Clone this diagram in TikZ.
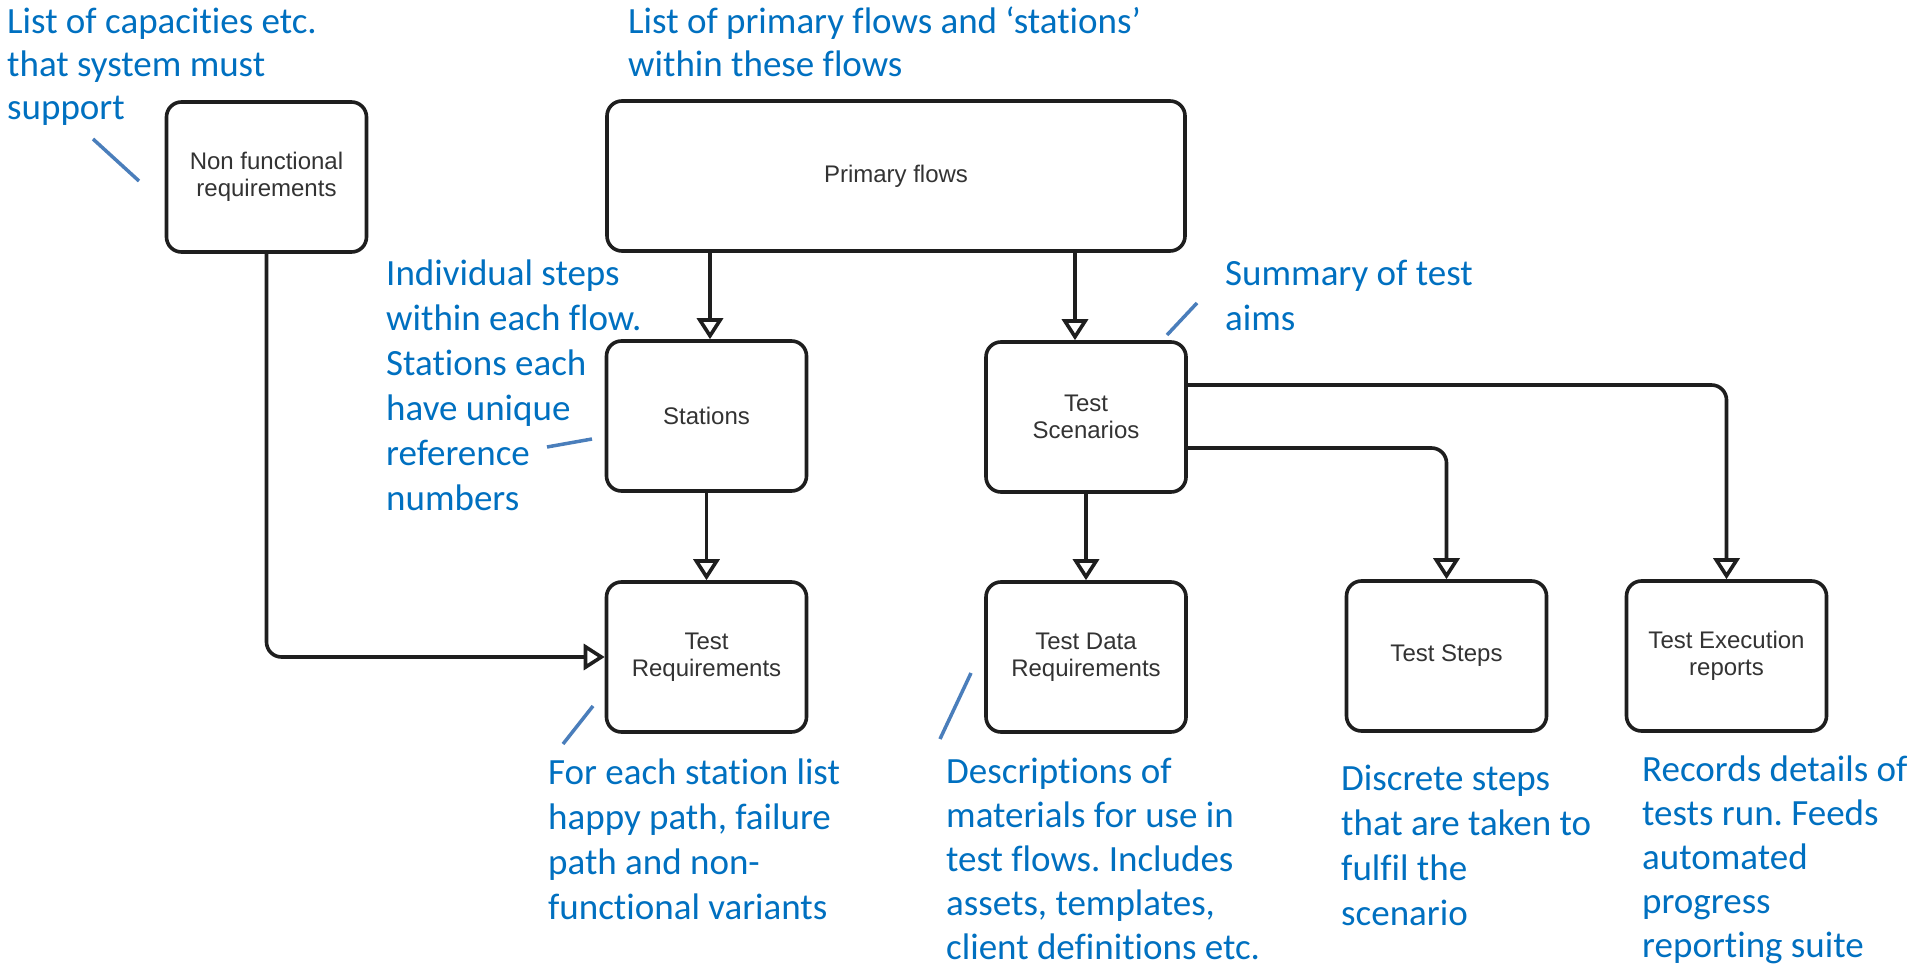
\documentclass[tikz,border=0pt]{standalone}
\usepackage{fontspec}
\setmainfont{Carlito}[Ligatures=NoCommon]
\newfontfamily\boxfont{Liberation Sans}
\usetikzlibrary{arrows.meta}
\definecolor{notecol}{HTML}{0070C0}
\definecolor{ptrcol}{HTML}{4A7EBB}
\definecolor{boxtext}{HTML}{333333}
\definecolor{edgecol}{HTML}{1E1E1E}
\newcommand{\firstl}{\rule{0pt}{30pt}}
\frenchspacing
\begin{document}
\frenchspacing
\begin{tikzpicture}[x=1pt,y=-1pt,
  box/.style={draw=edgecol, line width=3.6pt, rounded corners=15pt, minimum width=200pt, minimum height=150pt, inner sep=0pt, align=center, font=\boxfont\fontsize{24}{27}\selectfont, text=boxtext},
  arr/.style={draw=edgecol, line width=3.6pt, -{Triangle[open,length=21pt,width=26pt]}, rounded corners=15pt},
  note/.style={anchor=north west, inner sep=0pt, align=left, text=notecol, font=\fontsize{37}{45}\selectfont},
  notebot/.style={note, font=\fontsize{37}{44}\selectfont},
  notetop/.style={note, font=\fontsize{37}{43}\selectfont},
  ptr/.style={draw=ptrcol, line width=3.5pt}]
\fill[white] (0,0) rectangle (1913,965);
\useasboundingbox (0,0) rectangle (1913,965);

% boxes
\node[box] (nonfunc) at (266.5,177) {Non functional\\requirements};
\node[box, minimum width=578pt] (primary) at (896,176) {\raisebox{-3pt}{Primary flows}};
\node[box] (stations) at (706.5,416) {\raisebox{-2pt}{Stations}};
\node[box] (scen) at (1086,417) {Test\\Scenarios};
\node[box] (testreq) at (706.5,657) {Test\\Requirements};
\node[box] (testdata) at (1086,657) {Test Data\\Requirements};
\node[box] (steps) at (1446.5,656) {\raisebox{-2pt}{Test Steps}};
\node[box] (exec) at (1726.5,656) {Test Execution\\reports};

% connectors
\path ([xshift=3.5pt]stations.north) coordinate (sN);
\path ([xshift=-11pt]scen.north) coordinate (cN);
\path ([yshift=-31pt]scen.east) coordinate (cE1);
\path ([yshift=32pt]scen.east) coordinate (cE2);
\draw[arr] (sN |- primary.south) -- (sN);
\draw[arr] (cN |- primary.south) -- (cN);
\draw[arr] (stations.south) -- (testreq.north);
\draw[arr] (scen.south) -- (testdata.north);
\draw[arr] (cE1) -| (steps.north);
\draw[arr] (cE2) -| (exec.north);
\draw[arr] (nonfunc.south) |- (testreq.west);

% annotations (node top = first baseline - 30)
\node[notetop] (n1) at (7,3) {\firstl List of capacities etc.\\that system must\\support};
\node[notetop] (n2) at (628,3) {\firstl List of primary flows and ‘stations’\\within these flows};
\node[note] (n3) at (386,255) {\firstl Individual steps\\within each flow.\\Stations each\\have unique\\reference\\numbers};
\node[note] (n4) at (1225,255) {\firstl Summary of test\\aims};
\node[note] (n5) at (548,754) {\firstl For each station list\\happy path, failure\\path and non-\\functional variants};
\node[notebot] (n6) at (946,753) {\firstl Descriptions of\\materials for use in\\test flows. Includes\\assets, templates,\\client definitions etc.};
\node[note] (n7) at (1341,760) {\firstl Discrete steps\\that are taken to\\fulfil the\\scenario};
\node[notebot] (n8) at (1642,751) {\firstl Records details of\\tests run. Feeds\\automated\\progress\\reporting suite};

% pointer lines
\coordinate (p1a) at (93,139);   \coordinate (p1b) at (139,181);
\coordinate (p2a) at (547,447);  \coordinate (p2b) at (592,439);
\coordinate (p3a) at (563,744);  \coordinate (p3b) at (593,706);
\coordinate (p4a) at (940,739);  \coordinate (p4b) at (971,673);
\coordinate (p5a) at (1167,335); \coordinate (p5b) at (1197,303);
\draw[ptr] (p1a) -- (p1b);
\draw[ptr] (p2a) -- (p2b);
\draw[ptr] (p3a) -- (p3b);
\draw[ptr] (p4a) -- (p4b);
\draw[ptr] (p5a) -- (p5b);
\end{tikzpicture}
\end{document}
